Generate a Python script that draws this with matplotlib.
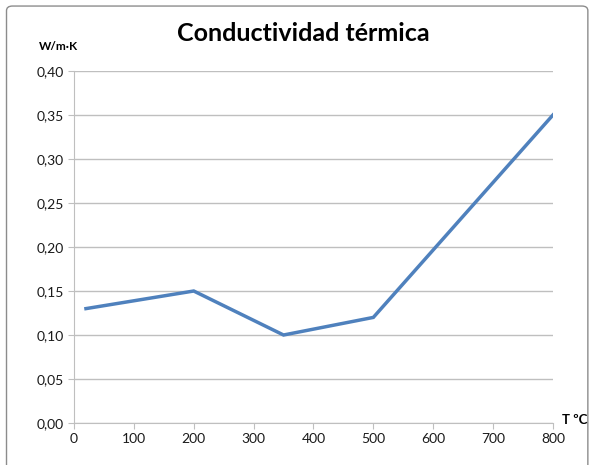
import matplotlib.pyplot as plt
from matplotlib.patches import FancyBboxPatch
from matplotlib.ticker import FuncFormatter

# data
temp = [20, 200, 350, 500, 800]
cond = [0.13, 0.15, 0.10, 0.12, 0.35]

plt.rcParams['font.family'] = ['Lato', 'DejaVu Sans']

fig = plt.figure(figsize=(5.92, 4.65), dpi=100)
ax = fig.add_axes([0.125, 0.0903, 0.809, 0.757])

ax.plot(temp, cond, color='#4F81BD', linewidth=2.5, solid_joinstyle='miter')

ax.set_xlim(0, 800)
ax.set_ylim(0, 0.40)
ax.set_xticks(range(0, 801, 100))
ax.set_yticks([i * 0.05 for i in range(9)])
ax.yaxis.set_major_formatter(FuncFormatter(lambda v, p: f'{v:.2f}'.replace('.', ',')))
ax.grid(axis='y', color='#BFBFBF', linewidth=1)
ax.set_axisbelow(True)
for s in ['top', 'right']:
    ax.spines[s].set_visible(False)
for s in ['left', 'bottom']:
    ax.spines[s].set_color('#BFBFBF')
ax.tick_params(axis='both', colors='#BFBFBF', labelcolor='#1a1a1a', labelsize=10, length=4)

fig.text(0.512, 0.928, 'Conductividad térmica', ha='center', va='center',
         fontsize=18, fontweight='bold')
fig.text(0.066, 0.9, 'W/m·K', ha='left', va='center', fontsize=8.5, fontweight='bold')
fig.text(0.95, 0.096, 'T ºC', ha='left', va='center', fontsize=9.5, fontweight='bold')

border = FancyBboxPatch((0.011, -0.02), 0.982, 1.007, boxstyle='round,pad=0,rounding_size=0.01',
                        transform=fig.transFigure, fill=False, edgecolor='#8C8C8C', linewidth=1)
fig.patches.append(border)

fig.savefig('out.png', dpi=100)
